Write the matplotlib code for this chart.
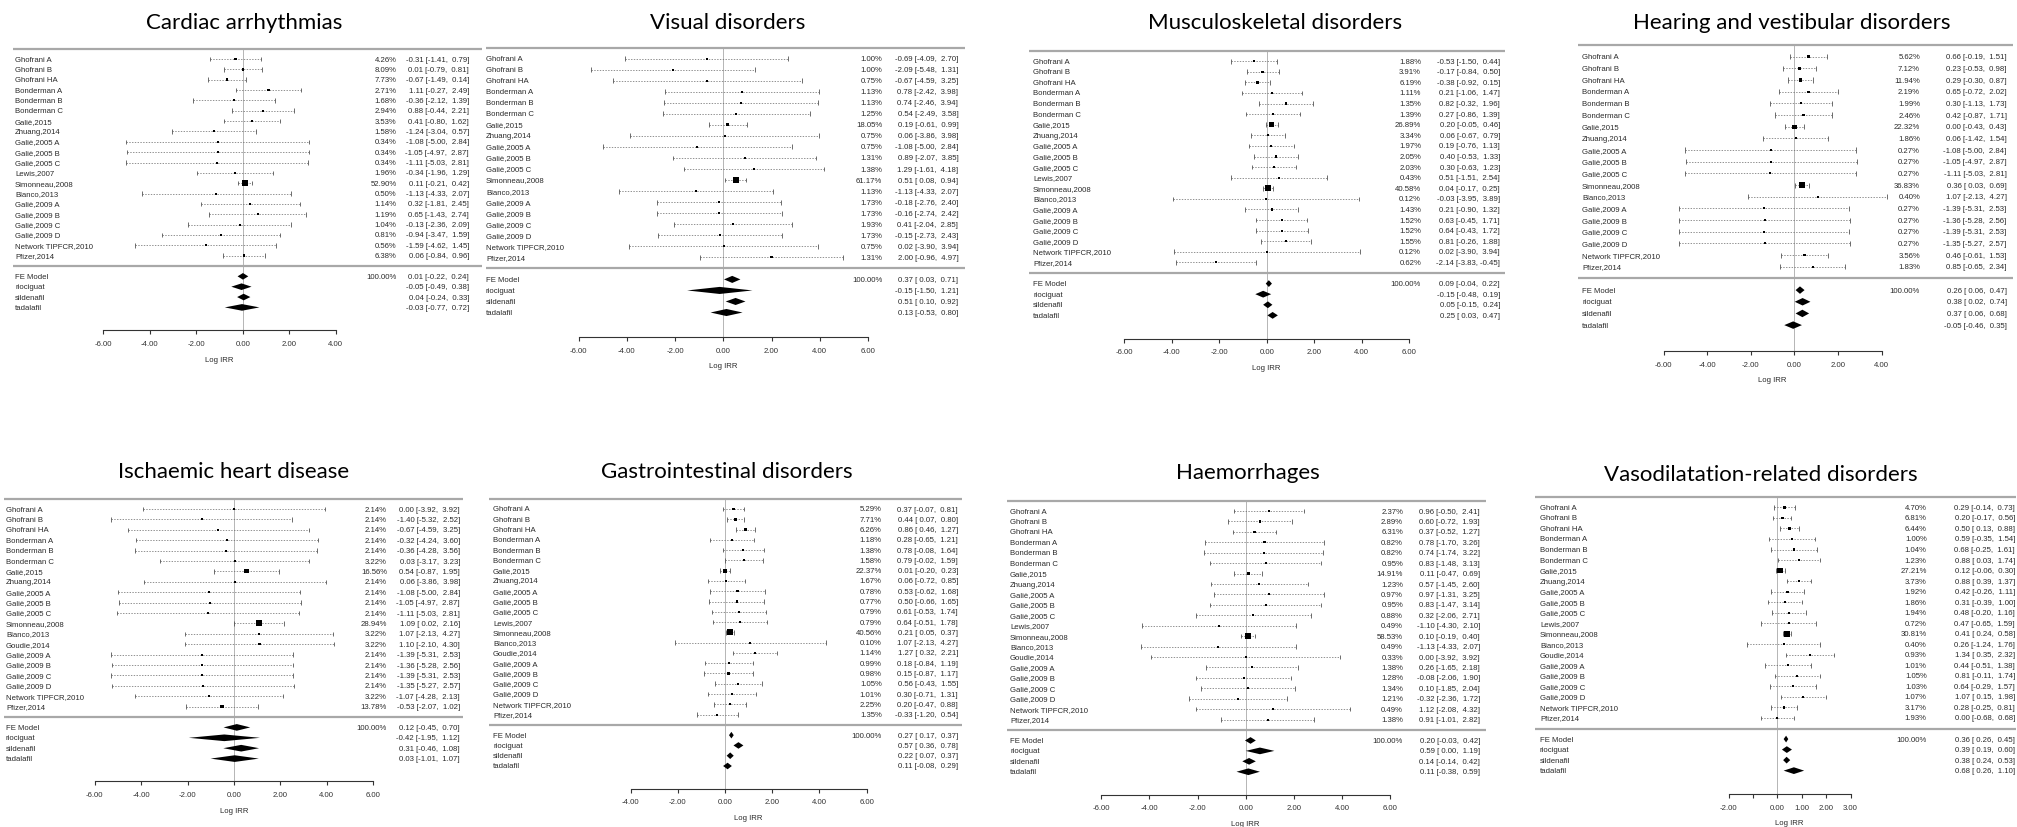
import matplotlib.pyplot as plt
from matplotlib.patches import Polygon
import numpy as np

plt.rcParams['font.family'] = ['Liberation Sans', 'DejaVu Sans']

FIG_W, FIG_H = 2017, 828

studies = ["Ghofrani A", "Ghofrani B", "Ghofrani HA", "Bonderman A", "Bonderman B",
           "Bonderman C", "Galiè,2015", "Zhuang,2014", "Galiè,2005 A", "Galiè,2005 B",
           "Galiè,2005 C", "Lewis,2007", "Simonneau,2008", "Blanco,2013", "Goudie,2014",
           "Galiè,2009 A", "Galiè,2009 B", "Galiè,2009 C", "Galiè,2009 D",
           "Network TIPFCR,2010", "Pfizer,2014"]
summary_names = ["FE Model", "riociguat", "sildenafil", "tadalafil"]

# Cardiac arrhythmias (no Goudie)
cardiac_w = [4.26, 8.09, 7.73, 2.71, 1.68, 2.94, 3.53, 1.58, 0.34, 0.34, 0.34, 1.96, 52.90, 0.50, 1.14, 1.19, 1.04, 0.81, 0.56, 6.38]
cardiac_est = [-0.31, 0.01, -0.67, 1.11, -0.36, 0.88, 0.41, -1.24, -1.08, -1.05, -1.11, -0.34, 0.11, -1.13, 0.32, 0.65, -0.13, -0.94, -1.59, 0.06]
cardiac_lo = [-1.41, -0.79, -1.49, -0.27, -2.12, -0.44, -0.80, -3.04, -5.00, -4.97, -5.03, -1.96, -0.21, -4.33, -1.81, -1.43, -2.36, -3.47, -4.62, -0.84]
cardiac_hi = [0.79, 0.81, 0.14, 2.49, 1.39, 2.21, 1.62, 0.57, 2.84, 2.87, 2.81, 1.29, 0.42, 2.07, 2.45, 2.74, 2.09, 1.59, 1.45, 0.96]
cardiac_sum = [0.01, -0.05, 0.04, -0.03]
cardiac_sum_lo = [-0.22, -0.49, -0.24, -0.77]
cardiac_sum_hi = [0.24, 0.38, 0.33, 0.72]

# Visual disorders (no Lewis, no Goudie)
visual_w = [1.00, 1.00, 0.75, 1.13, 1.13, 1.25, 18.05, 0.75, 0.75, 1.31, 1.38, 61.17, 1.13, 1.73, 1.73, 1.93, 1.73, 0.75, 1.31]
visual_est = [-0.69, -2.09, -0.67, 0.78, 0.74, 0.54, 0.19, 0.06, -1.08, 0.89, 1.29, 0.51, -1.13, -0.18, -0.16, 0.41, -0.15, 0.02, 2.00]
visual_lo = [-4.09, -5.48, -4.59, -2.42, -2.46, -2.49, -0.61, -3.86, -5.00, -2.07, -1.61, 0.08, -4.33, -2.76, -2.74, -2.04, -2.73, -3.90, -0.96]
visual_hi = [2.70, 1.31, 3.25, 3.98, 3.94, 3.58, 0.99, 3.98, 2.84, 3.85, 4.18, 0.94, 2.07, 2.40, 2.42, 2.85, 2.43, 3.94, 4.97]
visual_sum = [0.37, -0.15, 0.51, 0.13]
visual_sum_lo = [0.03, -1.50, 0.10, -0.53]
visual_sum_hi = [0.71, 1.21, 0.92, 0.80]

# Musculoskeletal disorders (no Goudie)
musculo_w = [1.88, 3.91, 6.19, 1.11, 1.35, 1.39, 26.89, 3.34, 1.97, 2.05, 2.03, 0.43, 40.58, 0.12, 1.43, 1.52, 1.52, 1.55, 0.12, 0.62]
musculo_est = [-0.53, -0.17, -0.38, 0.21, 0.82, 0.27, 0.20, 0.06, 0.19, 0.40, 0.30, 0.51, 0.04, -0.03, 0.21, 0.63, 0.64, 0.81, 0.02, -2.14]
musculo_lo = [-1.50, -0.84, -0.92, -1.06, -0.32, -0.86, -0.05, -0.67, -0.76, -0.53, -0.63, -1.51, -0.17, -3.95, -0.90, -0.45, -0.43, -0.26, -3.90, -3.83]
musculo_hi = [0.44, 0.50, 0.15, 1.47, 1.96, 1.39, 0.46, 0.79, 1.13, 1.33, 1.23, 2.54, 0.25, 3.89, 1.32, 1.71, 1.72, 1.88, 3.94, -0.45]
musculo_sum = [0.09, -0.15, 0.05, 0.25]
musculo_sum_lo = [-0.04, -0.48, -0.15, 0.03]
musculo_sum_hi = [0.22, 0.19, 0.24, 0.47]

# Hearing and vestibular disorders (no Lewis, no Goudie)
hearing_w = [5.62, 7.12, 11.94, 2.19, 1.99, 2.46, 22.32, 1.86, 0.27, 0.27, 0.27, 36.83, 0.40, 0.27, 0.27, 0.27, 0.27, 3.56, 1.83]
hearing_est = [0.66, 0.23, 0.29, 0.65, 0.30, 0.42, 0.00, 0.06, -1.08, -1.05, -1.11, 0.36, 1.07, -1.39, -1.36, -1.39, -1.35, 0.46, 0.85]
hearing_lo = [-0.19, -0.53, -0.30, -0.72, -1.13, -0.87, -0.43, -1.42, -5.00, -4.97, -5.03, 0.03, -2.13, -5.31, -5.28, -5.31, -5.27, -0.61, -0.65]
hearing_hi = [1.51, 0.98, 0.87, 2.02, 1.73, 1.71, 0.43, 1.54, 2.84, 2.87, 2.81, 0.69, 4.27, 2.53, 2.56, 2.53, 2.57, 1.53, 2.34]
hearing_sum = [0.26, 0.38, 0.37, -0.05]
hearing_sum_lo = [0.06, 0.02, 0.06, -0.46]
hearing_sum_hi = [0.47, 0.74, 0.68, 0.35]

# Ischaemic heart disease (no Lewis)
ischaemic_w = [2.14, 2.14, 2.14, 2.14, 2.14, 3.22, 16.56, 2.14, 2.14, 2.14, 2.14, 28.94, 3.22, 3.22, 2.14, 2.14, 2.14, 2.14, 3.22, 13.78]
ischaemic_est = [0.00, -1.40, -0.67, -0.32, -0.36, 0.03, 0.54, 0.06, -1.08, -1.05, -1.11, 1.09, 1.07, 1.10, -1.39, -1.36, -1.39, -1.35, -1.07, -0.53]
ischaemic_lo = [-3.92, -5.32, -4.59, -4.24, -4.28, -3.17, -0.87, -3.86, -5.00, -4.97, -5.03, 0.02, -2.13, -2.10, -5.31, -5.28, -5.31, -5.27, -4.28, -2.07]
ischaemic_hi = [3.92, 2.52, 3.25, 3.60, 3.56, 3.23, 1.95, 3.98, 2.84, 2.87, 2.81, 2.16, 4.27, 4.30, 2.53, 2.56, 2.53, 2.57, 2.13, 1.02]
ischaemic_sum = [0.12, -0.42, 0.31, 0.03]
ischaemic_sum_lo = [-0.45, -1.95, -0.46, -1.01]
ischaemic_sum_hi = [0.70, 1.12, 1.08, 1.07]

# Gastrointestinal disorders (all studies)
gastro_w = [5.29, 7.71, 6.26, 1.18, 1.38, 1.58, 22.37, 1.67, 0.78, 0.77, 0.79, 0.79, 40.56, 0.10, 1.14, 0.99, 0.98, 1.05, 1.01, 2.25, 1.35]
gastro_est = [0.37, 0.44, 0.86, 0.28, 0.78, 0.79, 0.01, 0.06, 0.53, 0.50, 0.61, 0.64, 0.21, 1.07, 1.27, 0.18, 0.15, 0.56, 0.30, 0.20, -0.33]
gastro_lo = [-0.07, 0.07, 0.46, -0.65, -0.08, -0.02, -0.20, -0.72, -0.62, -0.66, -0.53, -0.51, 0.05, -2.13, 0.32, -0.84, -0.87, -0.43, -0.71, -0.47, -1.20]
gastro_hi = [0.81, 0.80, 1.27, 1.21, 1.64, 1.59, 0.23, 0.85, 1.68, 1.65, 1.74, 1.78, 0.37, 4.27, 2.21, 1.19, 1.17, 1.55, 1.31, 0.88, 0.54]
gastro_sum = [0.27, 0.57, 0.22, 0.11]
gastro_sum_lo = [0.17, 0.36, 0.07, -0.08]
gastro_sum_hi = [0.37, 0.78, 0.37, 0.29]

# Haemorrhages (all studies)
haem_w = [2.37, 2.89, 6.31, 0.82, 0.82, 0.95, 14.91, 1.23, 0.97, 0.95, 0.88, 0.49, 58.53, 0.49, 0.33, 1.38, 1.28, 1.34, 1.21, 0.49, 1.38]
haem_est = [0.96, 0.60, 0.37, 0.78, 0.74, 0.83, 0.11, 0.57, 0.97, 0.83, 0.32, -1.10, 0.10, -1.13, 0.00, 0.26, -0.08, 0.10, -0.32, 1.12, 0.91]
haem_lo = [-0.50, -0.72, -0.52, -1.70, -1.74, -1.48, -0.47, -1.45, -1.31, -1.47, -2.06, -4.30, -0.19, -4.33, -3.92, -1.65, -2.06, -1.85, -2.36, -2.08, -1.01]
haem_hi = [2.41, 1.93, 1.27, 3.26, 3.22, 3.13, 0.69, 2.60, 3.25, 3.14, 2.71, 2.10, 0.40, 2.07, 3.92, 2.18, 1.90, 2.04, 1.72, 4.32, 2.82]
haem_sum = [0.20, 0.59, 0.14, 0.11]
haem_sum_lo = [-0.03, 0.00, -0.14, -0.38]
haem_sum_hi = [0.42, 1.19, 0.42, 0.59]

# Vasodilatation-related disorders (all studies)
vaso_w = [4.70, 6.81, 6.44, 1.00, 1.04, 1.23, 27.21, 3.73, 1.92, 1.86, 1.94, 0.72, 30.81, 0.40, 0.93, 1.01, 1.05, 1.03, 1.07, 3.17, 1.93]
vaso_est = [0.29, 0.20, 0.50, 0.59, 0.68, 0.88, 0.12, 0.88, 0.42, 0.31, 0.48, 0.47, 0.41, 0.26, 1.34, 0.44, 0.81, 0.64, 1.07, 0.28, 0.00]
vaso_lo = [-0.14, -0.17, 0.13, -0.35, -0.25, 0.03, -0.06, 0.39, -0.26, -0.39, -0.20, -0.65, 0.24, -1.24, 0.35, -0.51, -0.11, -0.29, 0.15, -0.25, -0.68]
vaso_hi = [0.73, 0.56, 0.88, 1.54, 1.61, 1.74, 0.30, 1.37, 1.11, 1.00, 1.16, 1.59, 0.58, 1.76, 2.32, 1.38, 1.74, 1.57, 1.98, 0.81, 0.68]
vaso_sum = [0.36, 0.39, 0.38, 0.68]
vaso_sum_lo = [0.26, 0.19, 0.24, 0.26]
vaso_sum_hi = [0.45, 0.60, 0.53, 1.10]


def pick(exclude):
    return [s for s in studies if s not in exclude]


# data per panel
panels = [
    ("Cardiac arrhythmias", pick({"Goudie,2014"}), cardiac_w, cardiac_est, cardiac_lo, cardiac_hi,
     cardiac_sum, cardiac_sum_lo, cardiac_sum_hi, [-6, -4, -2, 0, 2, 4]),
    ("Visual disorders", pick({"Lewis,2007", "Goudie,2014"}), visual_w, visual_est, visual_lo, visual_hi,
     visual_sum, visual_sum_lo, visual_sum_hi, [-6, -4, -2, 0, 2, 4, 6]),
    ("Musculoskeletal disorders", pick({"Goudie,2014"}), musculo_w, musculo_est, musculo_lo, musculo_hi,
     musculo_sum, musculo_sum_lo, musculo_sum_hi, [-6, -4, -2, 0, 2, 4, 6]),
    ("Hearing and vestibular disorders", pick({"Lewis,2007", "Goudie,2014"}), hearing_w, hearing_est, hearing_lo, hearing_hi,
     hearing_sum, hearing_sum_lo, hearing_sum_hi, [-6, -4, -2, 0, 2, 4]),
    ("Ischaemic heart disease", pick({"Lewis,2007"}), ischaemic_w, ischaemic_est, ischaemic_lo, ischaemic_hi,
     ischaemic_sum, ischaemic_sum_lo, ischaemic_sum_hi, [-6, -4, -2, 0, 2, 4, 6]),
    ("Gastrointestinal disorders", pick(set()), gastro_w, gastro_est, gastro_lo, gastro_hi,
     gastro_sum, gastro_sum_lo, gastro_sum_hi, [-4, -2, 0, 2, 4, 6]),
    ("Haemorrhages", pick(set()), haem_w, haem_est, haem_lo, haem_hi,
     haem_sum, haem_sum_lo, haem_sum_hi, [-6, -4, -2, 0, 2, 4, 6]),
    ("Vasodilatation-related disorders", pick(set()), vaso_w, vaso_est, vaso_lo, vaso_hi,
     vaso_sum, vaso_sum_lo, vaso_sum_hi, [-2, -1, 0, 1, 2, 3]),
]

# layout in pixels: label x, line left, line right, zero x, px per unit, first row y, row step,
# percent col x, value col x, title x, title y
layouts = [
    (15, 13, 482, 242.7, 23.25, 60.0, 10.35, 396.7, 469.0, 244, 23),
    (486, 486, 965, 723.3, 24.1, 59.6, 11.04, 882.3, 958.3, 728, 23),
    (1033, 1029, 1505, 1266.7, 23.75, 62.2, 10.59, 1421.0, 1500.0, 1275, 23),
    (1582, 1578, 2013, 1794.3, 21.8, 57.7, 11.67, 1920.0, 2006.7, 1792, 23),
    (6, 4, 463, 234.0, 23.2, 510.0, 10.4, 387.0, 460.0, 234, 472),
    (493, 489, 962, 725.0, 23.6, 510.0, 10.28, 881.7, 958.0, 727, 472),
    (1010, 1007, 1486, 1245.7, 24.1, 512.0, 10.43, 1403.0, 1480.0, 1248, 473),
    (1540, 1535, 2016, 1777.3, 24.4, 508.4, 10.53, 1926.7, 2015.0, 1761, 475),
]

fig = plt.figure(figsize=(FIG_W / 100, FIG_H / 100), dpi=100)
FS = 5.6
TXT = '#2a2a2a'

for panel, lay in zip(panels, layouts):
    title, names, w, est, lo, hi, s_est, s_lo, s_hi, ticks = panel
    lab_x, line_l, line_r, zero, unit, first, step, pct_x, val_x, tit_x, tit_y = lay
    n = len(names)
    y_bot = n + 6.2
    y_top = -1.5
    top_px = first + y_top * step
    bot_px = first + y_bot * step
    ax = fig.add_axes([line_l / FIG_W, 1 - bot_px / FIG_H, (line_r - line_l) / FIG_W, (bot_px - top_px) / FIG_H])
    ax.set_xlim((line_l - zero) / unit, (line_r - zero) / unit)
    ax.set_ylim(y_bot, y_top)
    ax.patch.set_alpha(0)
    for s in ['top', 'left', 'right']:
        ax.spines[s].set_visible(False)
    ax.spines['bottom'].set_bounds(ticks[0], ticks[-1])
    ax.spines['bottom'].set_color('#333333')
    ax.spines['bottom'].set_linewidth(0.8)
    ax.set_yticks([])
    ax.set_xticks(ticks)
    ax.set_xticklabels(['' if (title.startswith('Vaso') and t == -1) else '%.2f' % t for t in ticks])
    ax.tick_params(axis='x', direction='out', length=3, width=0.8, colors='#333333', labelsize=FS, pad=4)

    # frame lines and reference line
    ax.axhline(-1, color='#a8a8a8', lw=1.6)
    ax.axhline(n, color='#a8a8a8', lw=1.6)
    ax.vlines(0, -1, y_bot, color='#b5b5b5', lw=0.7, zorder=1)

    ys = np.arange(n)
    ax.hlines(ys, lo, hi, color='#666666', lw=0.5, linestyles=(0, (2.0, 2.0)), zorder=2)
    ax.vlines(lo, ys - 0.22, ys + 0.22, color='#555555', lw=0.6, zorder=2)
    ax.vlines(hi, ys - 0.22, ys + 0.22, color='#555555', lw=0.6, zorder=2)
    wa = np.array(w)
    side = 2.0 + 4.0 * (wa - wa.min()) / (wa.max() - wa.min())
    ax.scatter(est, ys, marker='s', s=(side * 0.72) ** 2, color='black', linewidths=0, zorder=3)

    lx = (lab_x - zero) / unit
    px = (pct_x - zero) / unit
    vx = (val_x - zero) / unit
    for i, nm in enumerate(names):
        ax.text(lx, i, nm, ha='left', va='center', fontsize=FS, color=TXT, clip_on=False)
        ax.text(px, i, '%.2f%%' % w[i], ha='right', va='center', fontsize=FS, color=TXT, clip_on=False)
        ax.text(vx, i, '%.2f [%5.2f, %5.2f]' % (est[i], lo[i], hi[i]), ha='right', va='center',
                fontsize=FS, color=TXT, clip_on=False)

    for j, nm in enumerate(summary_names):
        y = n + 1 + j
        ax.add_patch(Polygon([[s_lo[j], y], [s_est[j], y - 0.32], [s_hi[j], y], [s_est[j], y + 0.32]],
                             closed=True, color='black', lw=0, zorder=3))
        ax.text(lx, y, nm, ha='left', va='center', fontsize=FS, color=TXT, clip_on=False)
        if j == 0:
            ax.text(px, y, '100.00%', ha='right', va='center', fontsize=FS, color=TXT, clip_on=False)
        ax.text(vx, y, '%.2f [%5.2f, %5.2f]' % (s_est[j], s_lo[j], s_hi[j]), ha='right', va='center',
                fontsize=FS, color=TXT, clip_on=False)

    ax.annotate('Log IRR', xy=((ticks[0] + ticks[-1]) / 2, 0), xycoords=('data', 'axes fraction'),
                xytext=(0, -21), textcoords='offset points', ha='center', va='center',
                fontsize=FS, color=TXT)

    fig.text(tit_x / FIG_W, 1 - tit_y / FIG_H, title, ha='center', va='center',
             fontsize=16, family=['Lato', 'DejaVu Sans'], color='black')

fig.savefig('out.png', dpi=100)
